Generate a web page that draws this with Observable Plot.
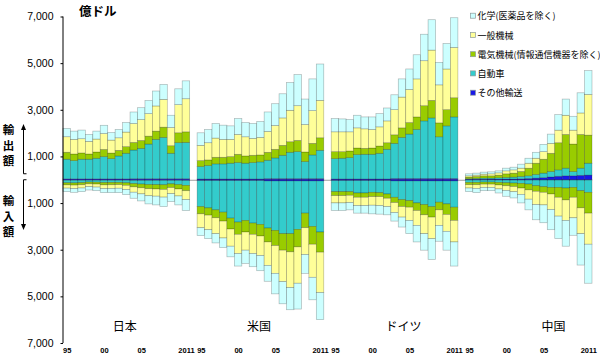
<!DOCTYPE html>
<html><head><meta charset="utf-8">
<script src="https://cdn.jsdelivr.net/npm/d3@7"></script>
<script src="https://cdn.jsdelivr.net/npm/@observablehq/plot@0.6"></script>
<style>
body{margin:0;background:#fff;}
#wrap{position:relative;width:600px;height:359px;background:#fff;}
#wrap svg{position:absolute;left:0;top:0;}
</style></head><body><div id="wrap"></div>
<script>
const years = [1995,1996,1997,1998,1999,2000,2001,2002,2003,2004,2005,2006,2007,2008,2009,2010,2011];
const countries = ["日本","米国","ドイツ","中国"];
const countryLabelYears = [2003,2003,2004,2006];
const countryLabelDx = [-2,-2,1,2];
const categories = ["その他輸送","自動車","電気機械(情報通信機器を除く)","一般機械","化学(医薬品を除く)"];
const colors = ["#1818e6","#33cccc","#99cc00","#ffff99","#ccffff"];
const tickYears = [1995,2000,2005,2011];
const yTicks = [7000,5000,3000,1000,-1000,-3000,-5000,-7000];
const unitLabel = "億ドル";
const exportLabel = "輸出額";
const importLabel = "輸入額";

// 日本 輸出
const jpExOther = [40,40,40,40,40,40,40,40,40,45,45,45,45,45,45,45,45];
const jpExAuto  = [840,780,840,840,880,950,865,980,1095,1230,1300,1485,1685,1770,1090,1545,1555];
const jpExElec  = [300,285,270,225,270,310,240,240,285,325,340,340,355,440,325,425,455];
const jpExMach  = [665,625,610,540,555,680,555,540,625,810,895,965,1080,1190,780,1205,1420];
const jpExChem  = [355,355,370,300,340,355,325,355,410,495,510,565,640,640,525,680,766];
// 日本 輸入
const jpImOther = [20,20,20,20,20,20,20,20,20,25,25,25,25,25,25,25,30];
const jpImAuto  = [110,115,105,80,85,100,95,95,110,140,160,180,185,190,150,180,210];
const jpImElec  = [90,95,90,75,80,100,100,95,110,140,160,180,185,200,160,190,230];
const jpImMach  = [140,150,140,120,130,160,160,155,180,230,260,300,310,330,260,300,380];
const jpImChem  = [150,159,155,145,153,173,178,188,218,259,302,350,373,404,341,383,469];
// 米国 輸出
const usExOther = [35,35,35,35,35,35,35,35,35,50,50,50,50,50,50,50,50];
const usExAuto  = [532,575,646,646,674,702,674,702,731,787,886,999,1127,1155,730,1014,1212];
const usExElec  = [255,241,283,283,284,355,312,312,298,340,369,426,454,482,411,496,539];
const usExMach  = [653,737,823,766,737,851,822,724,751,893,1021,1177,1347,1489,1177,1404,1602];
const usExChem  = [539,567,624,610,581,680,610,638,681,837,935,1035,1191,1333,1092,1361,1560];
// 米国 輸入
const usImOther = [35,35,35,35,35,35,35,35,35,50,50,50,50,50,50,50,50];
const usImAuto  = [1114,1170,1255,1355,1610,1780,1709,1823,1879,2020,2120,2261,2261,2077,1382,1949,2190];
const usImElec  = [312,312,341,383,468,525,496,482,497,596,652,709,780,752,624,766,865];
const usImMach  = [595,624,680,723,737,822,780,822,836,1007,1191,1347,1532,1559,1149,1418,1730];
const usImChem  = [340,383,397,411,454,539,568,567,653,680,879,951,950,1106,808,964,1163];
// ドイツ 輸出
const deExOther = [35,35,35,35,35,35,35,35,55,55,55,55,55,55,55,55,55];
const deExAuto  = [872,887,915,1043,1057,1057,1099,1270,1505,1760,1902,2100,2469,2597,1788,2256,2639];
const deExElec  = [298,283,284,283,255,269,312,283,368,411,496,539,652,751,596,695,823];
const deExMach  = [851,851,822,865,837,794,823,936,1078,1319,1418,1631,1929,2156,1631,1744,2155];
const deExChem  = [567,553,525,539,510,539,567,553,638,780,879,1035,1134,1304,964,1092,1276];
// ドイツ 輸入
const deImOther = [35,35,35,35,35,35,35,35,50,50,50,50,50,50,50,50,50];
const deImAuto  = [475,475,475,532,532,504,518,575,702,801,843,943,1014,1099,914,985,1127];
const deImElec  = [171,171,157,185,185,184,170,184,226,298,284,326,439,453,326,454,567];
const deImMach  = [312,312,311,354,354,369,383,355,426,453,567,638,808,922,667,723,922];
const deImChem  = [326,326,312,326,326,369,369,354,369,426,567,709,709,893,680,808,1035];
// 中国 輸出
const cnExOther = [20,20,20,25,25,30,30,40,55,70,90,120,150,170,170,190,200];
const cnExAuto  = [23,37,51,46,60,69,83,102,115,157,194,234,275,326,184,306,509];
const cnExElec  = [70,85,99,99,113,156,170,213,326,482,596,780,1163,1446,1177,1446,1205];
const cnExMach  = [57,57,71,85,99,128,142,142,213,213,326,425,539,822,595,922,1744];
const cnExChem  = [85,85,85,85,85,113,113,170,213,255,312,397,666,695,595,865,1021];
// 中国 輸入
const cnImOther = [15,15,15,15,15,15,15,15,15,15,15,15,15,15,15,15,15];
const cnImAuto  = [98,98,85,85,98,113,127,141,169,240,283,311,311,340,311,453,524];
const cnImElec  = [100,100,90,90,110,130,150,200,250,241,241,284,426,510,426,737,893];
const cnImMach  = [142,160,140,140,170,200,220,270,400,568,539,666,808,879,879,1106,1333];
const cnImChem  = [155,180,138,138,174,251,268,367,456,652,765,865,964,1106,751,1347,1673];

const exportsBy = {
  "日本": [jpExOther, jpExAuto, jpExElec, jpExMach, jpExChem],
  "米国": [usExOther, usExAuto, usExElec, usExMach, usExChem],
  "ドイツ": [deExOther, deExAuto, deExElec, deExMach, deExChem],
  "中国": [cnExOther, cnExAuto, cnExElec, cnExMach, cnExChem]
};
const importsBy = {
  "日本": [jpImOther, jpImAuto, jpImElec, jpImMach, jpImChem],
  "米国": [usImOther, usImAuto, usImElec, usImMach, usImChem],
  "ドイツ": [deImOther, deImAuto, deImElec, deImMach, deImChem],
  "中国": [cnImOther, cnImAuto, cnImElec, cnImMach, cnImChem]
};

const keyOf = (c, y) => c + "|" + y;
const xDomain = [];
countries.forEach((c, ci) => {
  years.forEach(y => xDomain.push(keyOf(c, y)));
  if (ci < countries.length - 1) xDomain.push("gap" + ci);
});

const rows = [];
countries.forEach(c => {
  years.forEach((y, i) => {
    categories.forEach((cat, k) => {
      rows.push({key: keyOf(c, y), cat, value: exportsBy[c][k][i]});
    });
    categories.forEach((cat, k) => {
      rows.push({key: keyOf(c, y), cat, value: -importsBy[c][k][i]});
    });
  });
});

const tickKeys = [];
countries.forEach(c => tickYears.forEach(y => tickKeys.push(keyOf(c, y))));
const tickLabel = k => { const y = +k.split("|")[1]; return y === 2011 ? "2011" : String(y).slice(2); };

const jp = "'Noto Sans CJK JP', sans-serif";
const labelMarks = countries.map((c, i) => Plot.text([{key: keyOf(c, countryLabelYears[i]), text: c, y: -6300}],
  {x: "key", y: "y", text: "text", dx: countryLabelDx[i], fontSize: 12, fontFamily: jp, fill: "#000"}));

const chart = Plot.plot({
  width: 600, height: 359,
  marginTop: 16.5, marginBottom: 16, marginLeft: 63, marginRight: 8,
  x: {domain: xDomain, padding: 0, axis: null},
  y: {domain: [-7000, 7000], axis: null},
  color: {domain: categories, range: colors},
  style: {fontFamily: "'Liberation Sans', Arial, sans-serif", background: "white", overflow: "visible"},
  marks: [
    Plot.ruleY([0], {stroke: "#a0a0a0", strokeWidth: 1}),
    Plot.barY(rows, {x: "key", y: "value", z: "cat", fill: "cat", stroke: "#000", strokeWidth: 0.7, strokeOpacity: 0.28, inset: 0}),
    Plot.axisY({ticks: yTicks, tickFormat: d => d3.format(",")(Math.abs(d)), tickSize: 2.5, tickPadding: 7.5, fontSize: 10.5, stroke: "#000", label: null}),
    Plot.axisX({ticks: tickKeys, tickFormat: tickLabel, tickSize: 0, tickPadding: 4, fontSize: 7.5, fontWeight: "bold", label: null}),
    ...labelMarks
  ]
});
document.getElementById("wrap").appendChild(chart);

const svg = d3.select(chart);
const ys = chart.scale("y");
const xs = chart.scale("x");
const x0 = xs.range[0];
svg.append("line").attr("x1", x0).attr("x2", x0)
  .attr("y1", ys.apply(7000)).attr("y2", ys.apply(-7000))
  .attr("stroke", "#000").attr("stroke-width", 1);

// overlay decorations
const ov = d3.select("#wrap").append("svg").attr("width", 600).attr("height", 359)
  .style("pointer-events", "none");
ov.append("text").attr("x", 79).attr("y", 16).text(unitLabel)
  .attr("font-family", jp).attr("font-size", 12.5).attr("font-weight", "bold");

const vy0 = ys.apply(0);
const exCenters = [129, 144.5, 160];
const imCenters = [200, 215.5, 231];
exportLabel.split("").forEach((ch, i) => ov.append("text").attr("x", 8.5).attr("y", exCenters[i]).text(ch)
  .attr("text-anchor", "middle").attr("dominant-baseline", "central").attr("font-family", jp).attr("font-size", 11.5).attr("font-weight", "bold"));
importLabel.split("").forEach((ch, i) => ov.append("text").attr("x", 8.5).attr("y", imCenters[i]).text(ch)
  .attr("text-anchor", "middle").attr("dominant-baseline", "central").attr("font-family", jp).attr("font-size", 11.5).attr("font-weight", "bold"));
ov.append("path").attr("d", `M26.5,${vy0 - 6}H23.5V129`).attr("fill", "none").attr("stroke", "#000").attr("stroke-width", 1);
ov.append("path").attr("d", `M21,130L23.5,124L26,130Z`).attr("fill", "#000");
ov.append("path").attr("d", `M26.5,${vy0}H23.5V225`).attr("fill", "none").attr("stroke", "#000").attr("stroke-width", 1);
ov.append("path").attr("d", `M21,224L23.5,230L26,224Z`).attr("fill", "#000");

// legend
const legendY = [15.7, 35, 54.2, 73.4, 92.7];
[4,3,2,1,0].forEach((k, i) => {
  ov.append("rect").attr("x", 470.5).attr("y", legendY[i] - 2.5).attr("width", 5).attr("height", 5)
    .attr("fill", colors[k]).attr("stroke", "#8a9a9a").attr("stroke-width", 0.7);
  ov.append("text").attr("x", 477.5).attr("y", legendY[i]).attr("dominant-baseline", "central")
    .attr("font-family", jp).attr("font-size", 9).text(categories[k]);
});
</script></body></html>
